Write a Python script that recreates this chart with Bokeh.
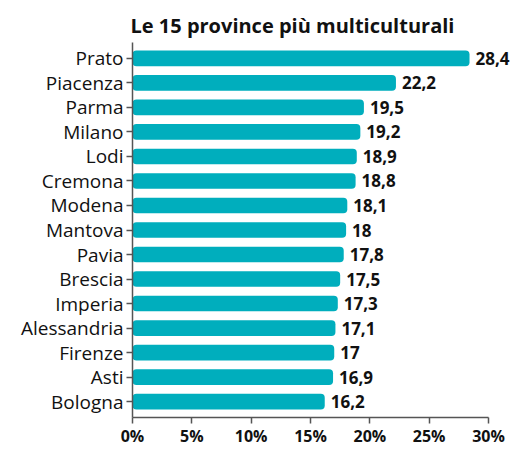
from bokeh.plotting import figure
from bokeh.models import ColumnDataSource, FactorRange, Range1d, FixedTicker
from bokeh.core.properties import value
from bokeh.embed import file_html
from bokeh.resources import INLINE

provinces = ["Prato", "Piacenza", "Parma", "Milano", "Lodi", "Cremona", "Modena", "Mantova",
             "Pavia", "Brescia", "Imperia", "Alessandria", "Firenze", "Asti", "Bologna"]
values = [28.4, 22.2, 19.5, 19.2, 18.9, 18.8, 18.1, 18.0, 17.8, 17.5, 17.3, 17.1, 17.0, 16.9, 16.2]
x_ticks = [0, 5, 10, 15, 20, 25, 30]
title_text = "Le 15 province più multiculturali"

def fmt(v):
    s = ("%.1f" % v).rstrip("0").rstrip(".")
    return s.replace(".", ",")

src = ColumnDataSource(dict(prov=provinces, val=values, lab=[fmt(v) for v in values]))

FONT = "Open Sans"
p = figure(width=514, height=449, output_backend="svg", toolbar_location=None,
           y_range=FactorRange(factors=provinces[::-1], range_padding=0.02),
           x_range=Range1d(0, 32.19),
           min_border_left=132, min_border_right=0, min_border_top=42, min_border_bottom=10)

p.title.text = title_text
p.title.align = "left"
p.title.offset = -2
p.title.text_font = FONT
p.title.text_font_size = "20px"
p.title.text_font_style = "bold"
p.title.text_color = "#111111"
p.title.standoff = 8

p.hbar(y="prov", right="val", left=0, height=0.64, source=src,
       fill_color="#00AEBD", line_color=None, border_radius=4)

p.text(x="val", y="prov", text="lab", source=src, x_offset=6,
       text_baseline="middle", text_align="left", text_font=value(FONT),
       text_font_size="17px", text_font_style="bold", text_color="#111111")

p.xgrid.visible = False
p.ygrid.visible = False
p.outline_line_color = None

p.xaxis.bounds = (0, 30)
p.xaxis.ticker = FixedTicker(ticks=x_ticks)
p.xaxis.major_label_overrides = {t: f"{t}%" for t in x_ticks}
p.xaxis.minor_tick_line_color = None
p.xaxis.major_tick_in = 0
p.xaxis.major_tick_out = 6
p.xaxis.axis_line_color = "#555555"
p.xaxis.axis_line_width = 1.5
p.xaxis.major_tick_line_color = "#555555"
p.xaxis.major_tick_line_width = 1.5
p.xaxis.major_label_text_font = FONT
p.xaxis.major_label_text_font_size = "16px"
p.xaxis.major_label_text_font_style = "bold"
p.xaxis.major_label_text_color = "#111111"
p.xaxis.major_label_standoff = 1

p.yaxis.major_tick_in = 0
p.yaxis.major_tick_out = 6
p.yaxis.axis_line_color = "#555555"
p.yaxis.axis_line_width = 1.5
p.yaxis.major_tick_line_color = "#555555"
p.yaxis.major_tick_line_width = 1.5
p.yaxis.major_label_text_font = FONT
p.yaxis.major_label_text_font_size = "19px"
p.yaxis.major_label_text_color = "#111111"
p.yaxis.major_label_standoff = 3

open("out.html", "w").write(file_html(p, INLINE))
